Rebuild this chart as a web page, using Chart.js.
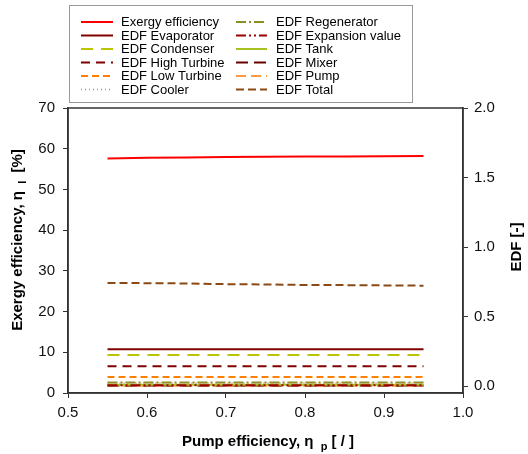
<!DOCTYPE html>
<html>
<head>
<meta charset="utf-8">
<script src="https://cdn.jsdelivr.net/npm/chart.js@4/dist/chart.umd.min.js"></script>
<style>
html,body{margin:0;padding:0;background:#fff;}
#wrap{width:528px;height:454px;position:relative;}
</style>
</head>
<body>
<div id="wrap"><canvas id="c" width="528" height="454"></canvas></div>
<script>
// ---- data ----
const pumpEff = [0.55, 0.60, 0.65, 0.70, 0.75, 0.80, 0.85, 0.90, 0.95];
const exergyEff = [57.6, 57.8, 57.85, 57.95, 58.0, 58.1, 58.1, 58.15, 58.2];
const edfEvaporator = [0.264, 0.264, 0.264, 0.264, 0.264, 0.264, 0.264, 0.264, 0.264];
const edfCondenser = [0.223, 0.223, 0.223, 0.223, 0.223, 0.223, 0.223, 0.223, 0.223];
const edfHighTurbine = [0.143, 0.143, 0.143, 0.143, 0.143, 0.143, 0.143, 0.143, 0.143];
const edfLowTurbine = [0.065, 0.065, 0.065, 0.065, 0.065, 0.065, 0.065, 0.065, 0.065];
const edfCooler = [0.022, 0.022, 0.022, 0.022, 0.022, 0.022, 0.022, 0.022, 0.022];
const edfRegenerator = [0.025, 0.025, 0.025, 0.025, 0.025, 0.025, 0.025, 0.025, 0.025];
const edfExpansion = [0.006, 0.006, 0.006, 0.006, 0.006, 0.006, 0.006, 0.006, 0.006];
const edfTank = [0.010, 0.010, 0.010, 0.010, 0.010, 0.010, 0.010, 0.010, 0.010];
const edfMixer = [0.004, 0.004, 0.004, 0.004, 0.004, 0.004, 0.004, 0.004, 0.004];
const edfPump = [0.003, 0.003, 0.003, 0.003, 0.003, 0.003, 0.003, 0.003, 0.003];
const edfTotal = [0.742, 0.740, 0.738, 0.733, 0.731, 0.727, 0.726, 0.724, 0.722];
const xTicks = [0.5, 0.6, 0.7, 0.8, 0.9, 1.0];
const leftTicks = [0, 10, 20, 30, 40, 50, 60, 70];
const rightTicks = [0.0, 0.5, 1.0, 1.5, 2.0];

const FONT = "'Liberation Sans', Arial, sans-serif";

function pts(ys){ return pumpEff.map((x,i)=>({x:x, y:ys[i]})); }

const series = [
  {label:'Exergy efficiency', data:exergyEff, color:'#ff0000', dash:[], axis:'y', w:2},
  {label:'EDF Evaporator', data:edfEvaporator, color:'#800000', dash:[], axis:'y1', w:2},
  {label:'EDF Condenser', data:edfCondenser, color:'#bcc400', dash:[12,8], axis:'y1', w:2},
  {label:'EDF High Turbine', data:edfHighTurbine, color:'#800000', dash:[9,6], axis:'y1', w:2},
  {label:'EDF Low Turbine', data:edfLowTurbine, color:'#ff8000', dash:[7,4], axis:'y1', w:2},
  {label:'EDF Cooler', data:edfCooler, color:'#c09060', dash:[1,3], axis:'y1', w:1.5},
  {label:'EDF Regenerator', data:edfRegenerator, color:'#8a9020', dash:[10,3,2,3], axis:'y1', w:2},
  {label:'EDF Expansion value', data:edfExpansion, color:'#9a0000', dash:[10,3,2,3,2,3], axis:'y1', w:2},
  {label:'EDF Tank', data:edfTank, color:'#a8c020', dash:[], axis:'y1', w:2},
  {label:'EDF Mixer', data:edfMixer, color:'#6a0000', dash:[12,6], axis:'y1', w:2},
  {label:'EDF Pump', data:edfPump, color:'#ff9a40', dash:[10,5], axis:'y1', w:2},
  {label:'EDF Total', data:edfTotal, color:'#8b4a14', dash:[8,4], axis:'y1', w:2}
];

const datasets = series.map(s=>({
  label:s.label, data:pts(s.data), borderColor:s.color, backgroundColor:s.color,
  borderDash:s.dash, borderWidth:s.w, pointRadius:0, yAxisID:s.axis, tension:0, fill:false
}));

const framePlugin = {
  id:'frame',
  afterDraw(chart){
    const ctx = chart.ctx, a = chart.chartArea;
    ctx.save();
    ctx.strokeStyle = '#333'; ctx.lineWidth = 1.5;
    ctx.strokeRect(a.left, a.top, a.right-a.left, a.bottom-a.top);

    // legend
    ctx.strokeStyle = '#999'; ctx.lineWidth = 1;
    ctx.strokeRect(69.5, 5.5, 343, 97);
    ctx.font = '13px ' + FONT; ctx.fillStyle = '#000'; ctx.textBaseline = 'middle';
    const rowY = [22, 35.5, 49, 62.5, 76, 89.5];
    series.forEach((s,i)=>{
      const col = i < 6 ? 0 : 1, row = i % 6;
      const x0 = col ? 236 : 81, x1 = col ? 267 : 113, tx = col ? 276 : 121;
      const y = rowY[row];
      ctx.save();
      ctx.strokeStyle = s.color; ctx.lineWidth = s.w; ctx.setLineDash(s.dash);
      ctx.beginPath(); ctx.moveTo(x0, y); ctx.lineTo(x1, y); ctx.stroke();
      ctx.restore();
      ctx.fillText(s.label, tx, y+0.5);
    });

    // axis titles with subscripts
    const bold = 'bold 15px ' + FONT, sub = 'bold 11px ' + FONT;
    function drawParts(parts, cx, cy){
      let total = 0;
      parts.forEach(p=>{ ctx.font = p.sub ? sub : bold; total += ctx.measureText(p.t).width; });
      let x = cx - total/2;
      parts.forEach(p=>{
        ctx.font = p.sub ? sub : bold;
        ctx.fillText(p.t, x, cy + (p.sub ? 5 : 0));
        x += ctx.measureText(p.t).width;
      });
    }
    ctx.fillStyle = '#000'; ctx.textBaseline = 'middle'; ctx.textAlign = 'left';
    drawParts([{t:'Pump efficiency, η '},{t:' p',sub:true},{t:' [ / ]'}], 268, 442);
    ctx.save();
    ctx.translate(18, 240); ctx.rotate(-Math.PI/2);
    drawParts([{t:'Exergy efficiency, η '},{t:' I',sub:true},{t:'  [%]'}], 0, 0);
    ctx.restore();
    ctx.save();
    ctx.translate(517, 247); ctx.rotate(-Math.PI/2);
    drawParts([{t:'EDF [-]'}], 0, 0);
    ctx.restore();
    ctx.restore();
  }
};

new Chart(document.getElementById('c'), {
  type:'line',
  data:{datasets:datasets},
  options:{
    responsive:false, animation:false,
    layout:{padding:{top:108, left:0, right:0, bottom:0}},
    plugins:{legend:{display:false}, tooltip:{enabled:false}, title:{display:false}},
    scales:{
      x:{
        type:'linear', min:0.5, max:1.0,
        afterBuildTicks(s){ s.ticks = xTicks.map(v=>({value:v})); },
        afterFit(s){ s.height = 61; },
        ticks:{color:'#111', font:{family:FONT, size:15}, padding:6, maxRotation:0,
          callback:v=>Number(v).toFixed(1)},
        grid:{drawOnChartArea:false, drawTicks:true, tickLength:5, color:'#333'},
        border:{display:true, color:'#333', width:1.5}
      },
      y:{
        type:'linear', position:'left', min:0, max:70,
        afterBuildTicks(s){ s.ticks = leftTicks.map(v=>({value:v})); },
        afterFit(s){ s.width = 68; },
        ticks:{color:'#111', font:{family:FONT, size:15}, padding:8,
          callback:v=>String(v)},
        grid:{drawOnChartArea:false, drawTicks:true, tickLength:5, color:'#333'},
        border:{display:true, color:'#333', width:1.5}
      },
      y1:{
        type:'linear', position:'right', min:-0.05, max:2.0,
        afterBuildTicks(s){ s.ticks = rightTicks.map(v=>({value:v})); },
        afterFit(s){ s.width = 65; },
        ticks:{color:'#111', font:{family:FONT, size:15}, padding:6,
          callback:v=>Number(v).toFixed(1)},
        grid:{drawOnChartArea:false, drawTicks:true, tickLength:5, color:'#333'},
        border:{display:true, color:'#333', width:1.5}
      }
    }
  },
  plugins:[framePlugin]
});
</script>
</body>
</html>
